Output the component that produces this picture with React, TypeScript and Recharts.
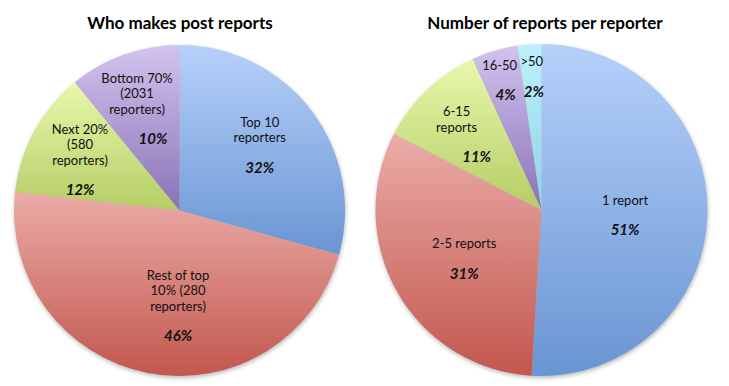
import React from 'react';
import { PieChart, Pie, Cell } from 'recharts';

// ---- data ----
const leftTitle = 'Who makes post reports';
const leftCategories = ['Top 10\nreporters', 'Rest of top\n10% (280\nreporters)', 'Next 20%\n(580\nreporters)', 'Bottom 70%\n(2031\nreporters)'];
const leftValues = [29.3, 47.5, 12.3, 10.9];
const leftPctLabels = ['32%', '46%', '12%', '10%'];

const rightTitle = 'Number of reports per reporter';
const rightCategories = ['1 report', '2-5 reports', '6-15\nreports', '16-50', '>50'];
const rightValues = [50.9, 31.6, 10.6, 4.5, 2.3];
const rightPctLabels = ['51%', '31%', '11%', '4%', '2%'];

// ---- styles / layout ----
const W = 729;
const H = 386;
const FONT = 'Lato, "Open Sans", sans-serif';
const gradients = [
  { id: 'gBlue', top: '#b6d0fa', bottom: '#6995d3' },
  { id: 'gRed', top: '#ebaca8', bottom: '#c2574e' },
  { id: 'gGreen', top: '#e8f8ab', bottom: '#b5cd66' },
  { id: 'gPurple', top: '#d2c3ee', bottom: '#8a72b7' },
  { id: 'gCyan', top: '#bdf0fc', bottom: '#8cd3e7' },
];
// label placement: [angle shift from slice middle (deg), radius fraction, pct x shift]
const leftLabelLayout = [[2.2, 0.628, 0], [10.1, 0.571, 0], [1.2, 0.677, 0], [2.9, 0.67, 16]];
const rightLabelLayout = [[-1.4, 0.504, 0], [2.2, 0.548, 0], [4.4, 0.688, 20], [1.4, 0.825, 6], [0, 0.81, 2]];

const LINE_H = 15.5;
const PCT_GAP = 29.5;
const RAD = Math.PI / 180;

function makeLabel(names: string[], pcts: string[], layout: number[][]) {
  return (props: any) => {
    const { cx, cy, midAngle, outerRadius, index } = props;
    const [shift, frac, pdx] = layout[index];
    const a = (midAngle + shift) * RAD;
    const r = outerRadius * frac;
    const x = cx + r * Math.cos(a);
    const y = cy - r * Math.sin(a);
    const lines = names[index].split('\n');
    const span = (lines.length - 1) * LINE_H + PCT_GAP;
    const y0 = y - span / 2;
    return (
      <g key={`lbl-${index}`}>
        <text x={x} y={y0} textAnchor="middle" fontFamily={FONT} fontSize={13} fill="#111">
          {lines.map((ln, i) => (
            <tspan key={i} x={x} y={y0 + i * LINE_H} dominantBaseline="central">{ln}</tspan>
          ))}
        </text>
        <text x={x + pdx} y={y0 + span} textAnchor="middle" dominantBaseline="central" fontFamily={FONT}
          fontSize={15} fontWeight="bold" fontStyle="italic" fill="#111">{pcts[index]}</text>
      </g>
    );
  };
}

const leftData = leftCategories.map((name, i) => ({ name, value: leftValues[i] }));
const rightData = rightCategories.map((name, i) => ({ name, value: rightValues[i] }));
const shadowData = [{ name: 'shadow', value: 1 }];

const titleStyle = (cx: number): React.CSSProperties => ({
  position: 'absolute', top: 11, left: cx - 200, width: 400, textAlign: 'center',
  fontFamily: FONT, fontWeight: 'bold', fontSize: 17, color: '#000', lineHeight: '24px',
});

export default function App() {
  const L = { cx: 179.5, cy: 210.5, r: 165.5 };
  const R = { cx: 541.5, cy: 210, r: 166 };
  return (
    <div style={{ position: 'absolute', left: 0, top: 0, width: W, height: H, background: '#fff' }}>
      <PieChart width={W} height={H} margin={{ top: 0, right: 0, bottom: 0, left: 0 }}>
        <defs>
          {gradients.map((g) => (
            <linearGradient key={g.id} id={g.id} x1="0" y1="0" x2="0" y2="1">
              <stop offset="0%" stopColor={g.top} />
              <stop offset="100%" stopColor={g.bottom} />
            </linearGradient>
          ))}
          <filter id="pieShadow" x="-10%" y="-10%" width="120%" height="120%">
            <feGaussianBlur stdDeviation="2" />
          </filter>
        </defs>
        <Pie data={shadowData} dataKey="value" cx={L.cx + 0.5} cy={L.cy + 2} outerRadius={L.r} startAngle={90} endAngle={-270}
          stroke="none" isAnimationActive={false} legendType="none">
          <Cell fill="#000" fillOpacity={0.28} filter="url(#pieShadow)" />
        </Pie>
        <Pie data={shadowData} dataKey="value" cx={R.cx + 0.5} cy={R.cy + 2} outerRadius={R.r} startAngle={90} endAngle={-270}
          stroke="none" isAnimationActive={false} legendType="none">
          <Cell fill="#000" fillOpacity={0.28} filter="url(#pieShadow)" />
        </Pie>
        <Pie data={leftData} dataKey="value" nameKey="name" cx={L.cx} cy={L.cy} outerRadius={L.r}
          startAngle={90} endAngle={-270} stroke="none" isAnimationActive={false}
          labelLine={false} label={makeLabel(leftCategories, leftPctLabels, leftLabelLayout)}>
          {leftData.map((_, i) => (
            <Cell key={i} fill={`url(#${gradients[i].id})`} />
          ))}
        </Pie>
        <Pie data={rightData} dataKey="value" nameKey="name" cx={R.cx} cy={R.cy} outerRadius={R.r}
          startAngle={90} endAngle={-270} stroke="none" isAnimationActive={false}
          labelLine={false} label={makeLabel(rightCategories, rightPctLabels, rightLabelLayout)}>
          {rightData.map((_, i) => (
            <Cell key={i} fill={`url(#${gradients[i].id})`} />
          ))}
        </Pie>
      </PieChart>
      <div style={titleStyle(180)}>{leftTitle}</div>
      <div style={titleStyle(545)}>{rightTitle}</div>
    </div>
  );
}
